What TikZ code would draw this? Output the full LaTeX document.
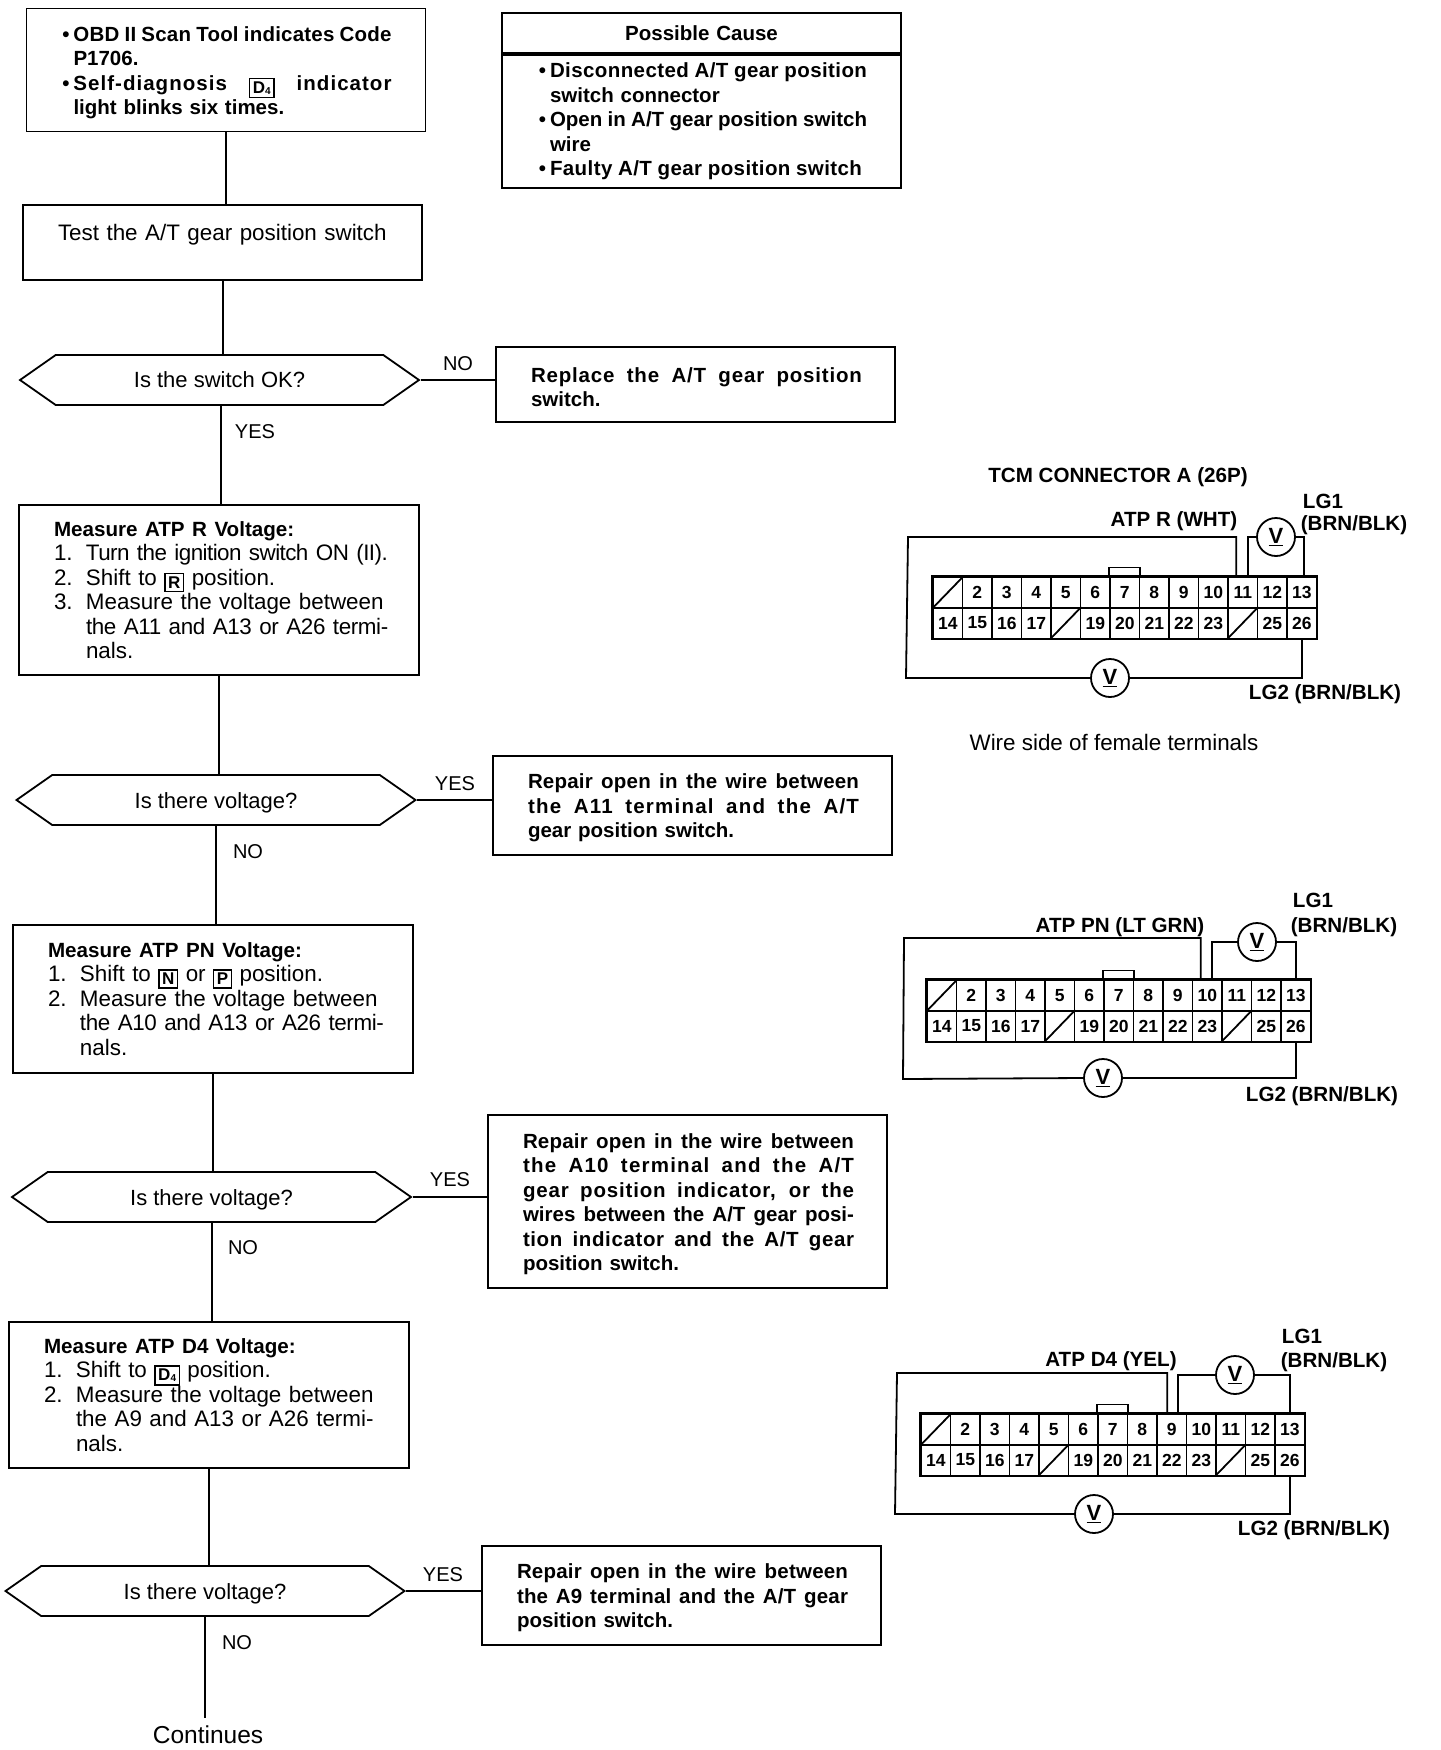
\documentclass[tikz,border=0pt]{standalone}
\usepackage{fontspec}
\setmainfont{Liberation Sans}
\usetikzlibrary{shapes.symbols}
\newcommand{\tagbox}[1]{{\setlength{\fboxsep}{2.5pt}\setlength{\fboxrule}{1.3pt}\raisebox{-3pt}{\fbox{\fontsize{17}{17}\selectfont\bfseries #1}}}}
\newcommand{\dfour}{\tagbox{D\raisebox{-1pt}{\fontsize{10}{10}\selectfont 4}}}
\newcommand{\numline}[2]{\mbox{\makebox[32pt][l]{#1}#2}}
\newcommand{\contline}[1]{\mbox{\hspace*{32pt}#1}}
\newcommand{\bul}{\llap{•\hspace{4pt}}}
\newcommand{\just}[3][1]{\makebox[#2pt][s]{\addfontfeature{LetterSpace=#1}\spaceskip=.25em plus 1fil\relax #3}}
\newcommand{\tight}[2]{{\addfontfeature{LetterSpace=#1}#2}}
\newcommand{\topshift}{\rule{0pt}{20pt}}
\newcommand{\hexshift}{\rule{0pt}{22pt}}
\newcommand{\head}[1]{\mbox{\fontsize{20.6}{24.5}\selectfont\bfseries #1}}
\newcommand{\conn}[3]{%
  \foreach \n in {1,...,13}{
    \pgfmathsetmacro\cx{#2+(\n-0.5)*29.5}
    \node[cell] (#1\n) at (\cx,#3+15.5) {\ifnum\n=1\else\n\fi};
  }
  \foreach \n [evaluate=\n as \m using int(\n+13)] in {1,...,13}{
    \pgfmathsetmacro\cx{#2+(\n-0.5)*29.5}
    \node[cell] (#1\m) at (\cx,#3+46) {\ifnum\n=5\else\ifnum\n=11\else\m\fi\fi};
  }
  \draw[outline] (#11.north west) rectangle (#126.south east);
  \draw[wire] (#11.south west) -- (#11.north east);
  \draw[wire] (#118.south west) -- (#118.north east);
  \draw[wire] (#124.south west) -- (#124.north east);
  \draw[wire] (#17.north west) -- ++(0,-9) -| (#17.north east);
}
\tikzset{
  every node/.style={font=\fontsize{22.4}{24.5}\selectfont},
  boldtext/.style={font=\fontsize{20.5}{24.5}\selectfont\bfseries},
  box/.code n args={3}{\pgfmathsetmacro\boxtw{#1-2*#3}\tikzset{draw,line width=1.8pt,rectangle,minimum width=#1pt,minimum height=#2pt,inner xsep=#3pt,inner ysep=0pt,align=left,text width=\boxtw pt}},
  decision/.style={draw,line width=1.8pt,signal,signal to=east and west,signal pointer angle=70,minimum width=399pt,minimum height=50pt,inner sep=0pt,font=\fontsize{22}{24}\selectfont},
  flow/.style={line width=2pt},
  wire/.style={line width=1.8pt},
  outline/.style={line width=2.4pt},
  cell/.style={draw,line width=1.5pt,minimum width=29.5pt,minimum height=30.5pt,inner sep=0pt,font=\fontsize{17.5}{17}\selectfont\bfseries},
  vm/.style={draw,circle,fill=white,line width=1.8pt,minimum size=38pt,inner sep=0pt,font=\fontsize{22}{22}\selectfont\bfseries},
  lab/.style={inner sep=0pt,font=\fontsize{20}{22}\selectfont},
  blab/.style={inner sep=0pt,font=\fontsize{20.6}{22}\selectfont\bfseries},
}
\begin{document}
\begin{tikzpicture}[x=1pt,y=-1pt]
\useasboundingbox (0,0) rectangle (1440,1750);
% left column
\node[box={399}{123}{47},boldtext] (start) at (226,70) {\topshift\mbox{\bul\just[1]{318}{OBD II Scan Tool indicates Code}}\\P1706.\\\mbox{\bul\just[5]{318}{Self-diagnosis \dfour{} indicator}}\\light blinks six times.};
\node[box={399}{75}{35}] (test) at (222.5,242.5) {Test the A/T gear position switch\\[-4.5pt]\mbox{}};
\node[decision] (q1) at (219.5,380) {Is the switch OK?};
\node[box={399}{75}{35},boldtext] (replace) at (695.5,384.5) {\topshift\just[4]{331}{Replace the A/T gear position}\\switch.};
\node[box={400}{170}{35}] (atpr) at (219,590) {\head{Measure ATP R Voltage:}\\\numline{1.}{\tight{-2.5}{Turn the ignition switch ON (II).}}\\\numline{2.}{Shift to \tagbox{R} position.}\\\numline{3.}{Measure the voltage between}\\\contline{\tight{-1.7}{the A11 and A13 or A26 termi-}}\\\contline{nals.}};
\node[decision] (q2) at (216,800) {\hexshift Is there voltage?};
\node[box={399}{99}{35},boldtext] (rep1) at (692.5,805.5) {\topshift\just[1]{331}{Repair open in the wire between}\\\just[6]{331}{the A11 terminal and the A/T}\\gear position switch.};
\node[box={400}{148}{35}] (atppn) at (213,999) {\head{Measure ATP PN Voltage:}\\\numline{1.}{Shift to \tagbox{N} or \tagbox{P} position.}\\\numline{2.}{Measure the voltage between}\\\contline{\tight{-1.7}{the A10 and A13 or A26 termi-}}\\\contline{nals.}};
\node[decision] (q3) at (211.5,1197) {\hexshift Is there voltage?};
\node[box={399}{173}{35},boldtext] (rep2) at (687.5,1201.5) {\topshift\just[1]{331}{Repair open in the wire between}\\\just[6]{331}{the A10 terminal and the A/T}\\\just[4]{331}{gear position indicator, or the}\\\just[0]{331}{wires between the A/T gear posi-}\\\just[3]{331}{tion indicator and the A/T gear}\\position switch.};
\node[box={400}{146}{35}] (atpd) at (209,1395) {\head{Measure ATP D4 Voltage:}\\\numline{1.}{Shift to \dfour{} position.}\\\numline{2.}{Measure the voltage between}\\\contline{the A9 and A13 or A26 termi-}\\\contline{nals.}};
\node[decision] (q4) at (205,1591) {\hexshift Is there voltage?};
\node[box={399}{99}{35},boldtext] (rep3) at (681.5,1595.5) {\topshift\just[1]{331}{Repair open in the wire between}\\\just[1]{331}{the A9 terminal and the A/T gear}\\position switch.};
\node[lab,font=\fontsize{24.5}{26}\selectfont] (cont) at (208,1735) {Continues};
\coordinate (contend) at (207,1718);
% cause
\node[box={399}{40}{10},align=center,font=\fontsize{20.5}{24}\selectfont\bfseries] (causet) at (701.5,33) {Possible Cause};
\node[box={399}{133}{48},boldtext,anchor=north] (causeb) at (causet.south) {\mbox{\bul\just[2]{317}{Disconnected A/T gear position}}\\switch connector\\\mbox{\bul\just[0]{317}{Open in A/T gear position switch}}\\wire\\\mbox{\bul\just[2]{312}{Faulty A/T gear position switch}}};
% flow connectors
\draw[flow] (start.south) -- (start.south |- test.north);
\draw[flow] (test.south) -- (test.south |- q1.north);
\draw[flow] ([xshift=1pt]q1.south) -- ([xshift=1pt]q1.south |- atpr.north);
\draw[flow] (atpr.south) -- (atpr.south |- q2.north);
\draw[flow] (q2.south) -- (q2.south |- atppn.north);
\draw[flow] (atppn.south) -- (atppn.south |- q3.north);
\draw[flow] (q3.south) -- (q3.south |- atpd.north);
\draw[flow] (atpd.south) -- (atpd.south |- q4.north);
\draw[flow] (q4.south) -- (q4.south |- contend);
\draw[flow] (q1.east) -- (q1.east -| replace.west);
\draw[flow] (q2.east) -- (q2.east -| rep1.west);
\draw[flow] (q3.east) -- (q3.east -| rep2.west);
\draw[flow] (q4.east) -- (q4.east -| rep3.west);
\node[lab] (n1) at (458,364) {NO};
\node[lab] (y1) at (255,432) {YES};
\node[lab] (y2) at (455,784) {YES};
\node[lab] (n2) at (248,852) {NO};
\node[lab] (y3) at (450,1180) {YES};
\node[lab] (n3) at (243,1248) {NO};
\node[lab] (y4) at (443,1575) {YES};
\node[lab] (n4) at (237,1643) {NO};
% connector A
\node[blab] (tcm) at (1118,477) {TCM CONNECTOR A (26P)};
\conn{a}{933}{577}
\node[vm] (av1) at (1276,537) {\underline{V}};
\node[vm] (av2) at (1110,678) {\underline{V}};
\coordinate (al) at (908,537);
\coordinate (all) at (906,678);
\draw[wire] ([xshift=9pt]a11.north west) |- (al) -- (all) -- (av2.west);
\draw[wire] ([xshift=21pt]a11.north west) |- (av1.west);
\draw[wire] (av1.east) -| ([xshift=2pt]a13.north);
\draw[wire] (av2.east) -| (a26.south);
\node[blab] (atpr1) at (1174,521) {ATP R (WHT)};
\node[blab] (lg1a) at (1323,501) {LG1};
\node[blab] (bba) at (1354,525) {(BRN/BLK)};
\node[blab] (lg2a) at (1325,694) {LG2 (BRN/BLK)};
\node[lab,font=\fontsize{22.4}{24}\selectfont] (wire) at (1114,742) {Wire side of female terminals};
% connector B
\conn{b}{927}{980}
\node[vm] (bv1) at (1257,942) {\underline{V}};
\node[vm] (bv2) at (1103,1078) {\underline{V}};
\coordinate (bl) at (904,938);
\coordinate (bll) at (903,1079);
\draw[wire] ([xshift=9pt]b10.north west) |- (bl) -- (bll) -- (bv2.west);
\draw[wire] ([xshift=20pt]b10.north west) |- (bv1.west);
\draw[wire] (bv1.east) -| (b13.north);
\draw[wire] (bv2.east) -| (b26.south);
\node[blab] (atpn) at (1120,927) {ATP PN (LT GRN)};
\node[blab] (lg1b) at (1313,900) {LG1};
\node[blab] (bbb) at (1344,927) {(BRN/BLK)};
\node[blab] (lg2b) at (1322,1096) {LG2 (BRN/BLK)};
% connector C
\conn{c}{921}{1414}
\node[vm] (cv1) at (1235,1375) {\underline{V}};
\node[vm] (cv2) at (1094,1514) {\underline{V}};
\coordinate (cl) at (897,1373);
\coordinate (cll) at (895,1514);
\draw[wire] ([xshift=11pt]c9.north west) |- (cl) -- (cll) -- (cv2.west);
\draw[wire] ([xshift=22pt]c9.north west) |- (cv1.west);
\draw[wire] (cv1.east) -| (c13.north);
\draw[wire] (cv2.east) -| (c26.south);
\node[blab] (atpd4) at (1111,1361) {ATP D4 (YEL)};
\node[blab] (lg1c) at (1302,1336) {LG1};
\node[blab] (bbc) at (1334,1362) {(BRN/BLK)};
\node[blab] (lg2c) at (1314,1530) {LG2 (BRN/BLK)};
\end{tikzpicture}
\end{document}
